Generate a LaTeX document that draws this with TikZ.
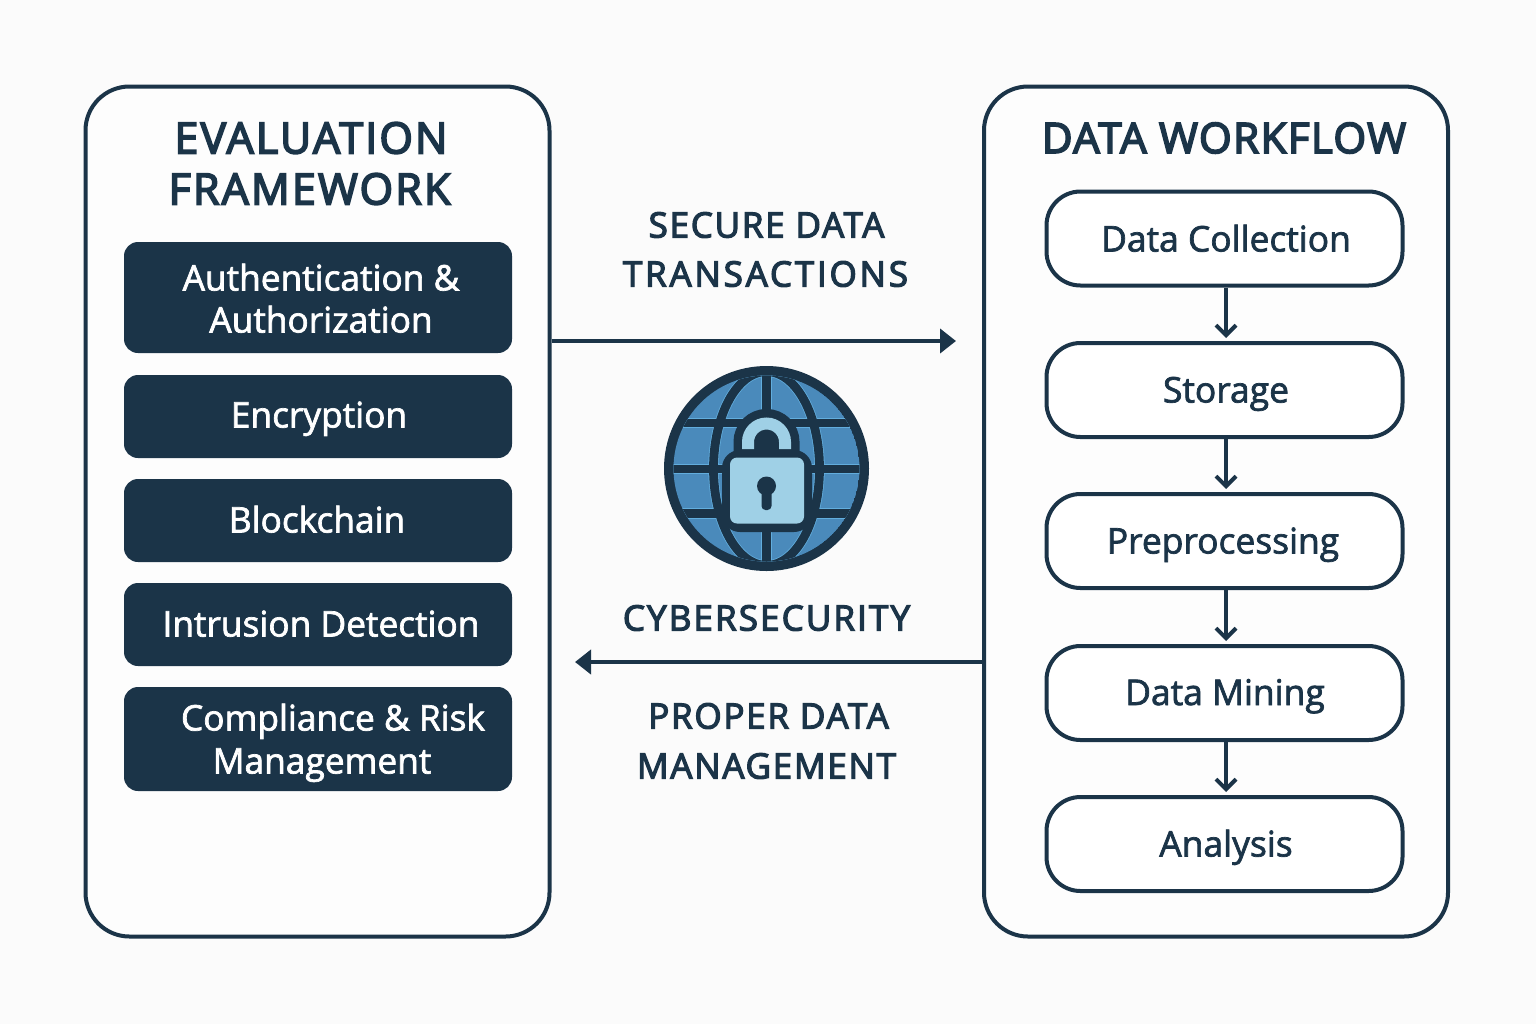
\documentclass[tikz,border=0pt]{standalone}
\usepackage{fontspec}
\setmainfont{Open Sans}
\newfontfamily\tfont[LetterSpace=5,FakeBold=4]{Open Sans}
\newfontfamily\tfontn[LetterSpace=3.5,FakeBold=4]{Open Sans}
\newfontfamily\cfont[LetterSpace=5,FakeBold=3.5]{Open Sans}
\newfontfamily\cfontw[LetterSpace=8,FakeBold=3.5]{Open Sans}
\newfontfamily\cfontm[LetterSpace=6,FakeBold=3.5]{Open Sans}
\newfontfamily\bfontx[FakeBold=2]{Open Sans}
\usetikzlibrary{arrows.meta}
\definecolor{ink}{HTML}{1B3448}
\definecolor{pagebg}{HTML}{FBFBFB}
\definecolor{globeblue}{HTML}{4A8ABB}
\definecolor{globeedge}{HTML}{62ADDD}
\definecolor{locklight}{HTML}{9FD0E6}
\tikzset{
  x=0.5pt,y=-0.5pt,
  panel/.style={draw=ink,line width=2pt,fill=white!60!pagebg,rounded corners=22pt,inner sep=0pt,minimum width=232pt,minimum height=425pt},
  darkbox/.style={fill=ink,rounded corners=7pt,inner sep=0pt,minimum width=194pt},
  flowbox/.style={draw=ink,line width=2pt,fill=white,rounded corners=17pt,inner sep=0pt,minimum width=178pt,minimum height=47pt},
  paneltitle/.style={text=ink,font=\tfont\fontsize{21.5}{25}\selectfont,inner sep=0pt},
  midlabel/.style={text=ink,font=\cfont\fontsize{17.5}{20}\selectfont,inner sep=0pt},
  darklabel/.style={text=white,anchor=base,font=\bfontx\fontsize{17.65}{21}\selectfont,inner sep=0pt},
  flowlabel/.style={text=ink,anchor=base,font=\bfontx\fontsize{17.7}{21}\selectfont,inner sep=0pt},
  bigarrow/.style={draw=ink,line width=2pt,-{Triangle[length=8pt,width=12pt]}},
  flowarrow/.style={draw=ink,line width=2pt,shorten >=1.5pt,-{Straight Barb[length=5pt,width=10pt,line width=2pt]}},
  gridline/.style={draw=ink,line width=4.4pt},
  gridedge/.style={draw=globeedge,line width=5.2pt},
}
\begin{document}
\begin{tikzpicture}
\useasboundingbox[fill=pagebg] (0,0) rectangle (1536,1024);
% panels
\node[panel] (evalpanel) at (317.5,511.5) {};
\node[panel] (flowpanel) at (1216,511.5) {};
\node[paneltitle] (evaltitle1) at (311,138) {EVALUATION};
\node[paneltitle] (evaltitle2) at (309.5,189) {FRAMEWORK};
\node[paneltitle,font=\tfontn\fontsize{21}{25}\selectfont] (flowtitle) at (1224,138) {DATA WORKFLOW};
% left boxes
\node[darkbox,minimum height=55.5pt] (auth) at (318,297.5) {};
\node[darkbox,minimum height=41.5pt] (enc) at (318,416.5) {};
\node[darkbox,minimum height=41.5pt] (block) at (318,520.5) {};
\node[darkbox,minimum height=41.5pt] (intr) at (318,624.5) {};
\node[darkbox,minimum height=52pt] (comp) at (318,739) {};
\node[darklabel] (authl1) at (321,290.5) {Authentication \&};
\node[darklabel] (authl2) at (321,332.5) {Authorization};
\node[darklabel] (encl) at (319,427.5) {Encryption};
\node[darklabel] (blockl) at (317,532.5) {Blockchain};
\node[darklabel] (intrl) at (321,636.5) {Intrusion Detection};
\node[darklabel] (compl1) at (333,730.5) {Compliance \& Risk};
\node[darklabel] (compl2) at (322,773.5) {Management};
% right boxes
\node[flowbox] (collect) at (1224.5,238.5) {};
\node[flowbox] (store) at (1224.5,390) {};
\node[flowbox] (prep) at (1224.5,541) {};
\node[flowbox] (mine) at (1224.5,693) {};
\node[flowbox] (ana) at (1224.5,844) {};
\node[flowlabel] (collectl) at (1226,251.5) {Data Collection};
\node[flowlabel] (storel) at (1226,402.5) {Storage};
\node[flowlabel] (prepl) at (1223,553.5) {Preprocessing};
\node[flowlabel] (minel) at (1225,705) {Data Mining};
\node[flowlabel] (anal) at (1226,856.5) {Analysis};
\foreach \a/\b in {collect/store,store/prep,prep/mine,mine/ana}
  \draw[flowarrow] ([xshift=.75pt]\a.south) -- ([xshift=.75pt]\b.north);
% centre arrows
\coordinate (fwdend) at (956,341);
\coordinate (backend) at (575,662);
\draw[bigarrow] (evalpanel.east |- fwdend) -- (fwdend);
\draw[bigarrow] (flowpanel.west |- backend) -- (backend);
% centre labels
\node[midlabel] (sec1) at (766.5,225) {SECURE DATA};
\node[midlabel,font=\cfontw\fontsize{17.5}{20}\selectfont] (sec2) at (765.5,274) {TRANSACTIONS};
\node[midlabel,font=\cfontm\fontsize{17.5}{20}\selectfont] (cyber) at (766.5,618) {CYBERSECURITY};
\node[midlabel] (prop1) at (768.5,716) {PROPER DATA};
\node[midlabel] (prop2) at (766.5,766) {MANAGEMENT};
% globe
\fill[ink] (766.5,468.5) circle[radius=102.5];
\begin{scope}
\clip (766.5,468.5) circle[radius=93];
\fill[globeblue] (766.5,468.5) circle[radius=93];
\foreach \s in {gridedge,gridline}{
  \draw[\s] (660,423) -- (873,423);
  \draw[\s] (660,469) -- (873,469);
  \draw[\s] (660,513.5) -- (873,513.5);
  \draw[\s] (766.5,360) -- (766.5,580);
  \draw[\s] (766.5,468.5) ellipse[x radius=53,y radius=97];
}
\end{scope}
\draw[ink,line width=14.5pt] (748,455) -- (748,442) arc[start angle=180,end angle=360,radius=18.5] -- (785,455);
\fill[ink,rounded corners=9pt] (722,450) rectangle (812,532);
\draw[locklight,line width=6pt] (748,449) -- (748,442) arc[start angle=180,end angle=360,radius=18.5] -- (785,449);
\fill[locklight,rounded corners=3.5pt] (730,457.5) rectangle (804,523.5);
\fill[ink] (766.5,486) circle[radius=9.5];
\fill[ink,rounded corners=2pt] (761.5,488) rectangle (771.5,510);
\end{tikzpicture}
\end{document}
